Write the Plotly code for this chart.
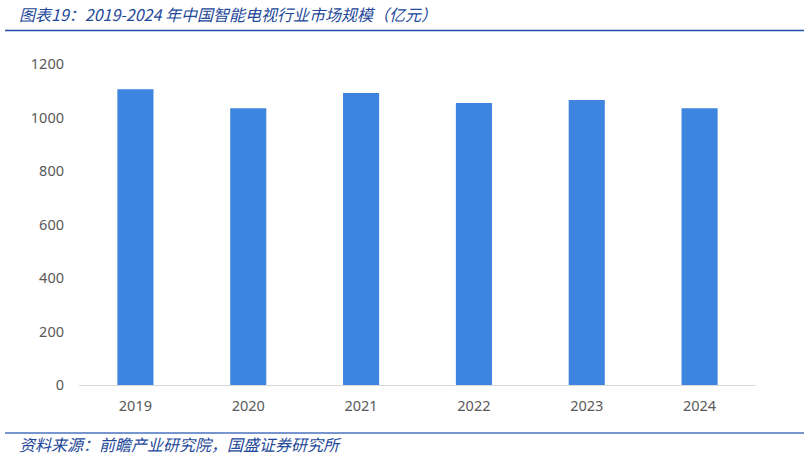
import plotly.graph_objects as go

years = ["2019", "2020", "2021", "2022", "2023", "2024"]
market_size = [1106, 1035, 1092, 1054, 1065, 1035]
y_ticks = [0, 200, 400, 600, 800, 1000, 1200]

title_text = "图表19：2019-2024 年中国智能电视行业市场规模（亿元）"
source_text = "资料来源：前瞻产业研究院，国盛证券研究所"

W, H = 810, 458
ML, MR, MT, MB = 79, 54, 64, 73
PW, PH = W - ML - MR, H - MT - MB


def px_x(x):
    return (x - ML) / PW


def px_y(y):
    return (H - MB - y) / PH


title_color = "#24489A"
fig = go.Figure(
    go.Bar(
        x=years,
        y=market_size,
        marker=dict(color="#3D85DF", line=dict(width=0)),
        hoverinfo="x+y",
    )
)

fig.update_layout(
    width=W,
    height=H,
    paper_bgcolor="white",
    plot_bgcolor="white",
    margin=dict(l=ML, r=MR, t=MT, b=MB),
    bargap=0.68,
    showlegend=False,
    font=dict(family="Noto Sans CJK SC, Noto Sans, sans-serif", color="#595959", size=14),
    xaxis=dict(
        type="category",
        showgrid=False,
        showline=True,
        linecolor="#D9D9D9",
        linewidth=1,
        ticks="",
        ticklabelstandoff=8,
        tickfont=dict(size=14.5, color="#595959", family="Noto Sans, sans-serif"),
    ),
    yaxis=dict(
        range=[0, 1200],
        tickvals=y_ticks,
        showgrid=False,
        zeroline=False,
        showline=False,
        ticks="",
        ticklabelstandoff=14,
        tickfont=dict(size=14.5, color="#595959", family="Noto Sans, sans-serif"),
    ),
    shapes=[
        dict(type="line", xref="paper", yref="paper", x0=px_x(5), x1=px_x(804),
             y0=px_y(30.5), y1=px_y(30.5),
             line=dict(color="#1F50AA", width=1.5)),
        dict(type="line", xref="paper", yref="paper", x0=px_x(5), x1=px_x(804),
             y0=px_y(433), y1=px_y(433),
             line=dict(color="#4A72BE", width=1.5)),
    ],
    annotations=[
        dict(text="<i>" + title_text + "</i>", xref="paper", yref="paper",
             x=px_x(17), y=px_y(14), xanchor="left", yanchor="middle",
             showarrow=False,
             font=dict(size=16, color=title_color, family="Noto Sans CJK SC, sans-serif")),
        dict(text="<i>" + source_text + "</i>", xref="paper", yref="paper",
             x=px_x(17), y=px_y(444), xanchor="left", yanchor="middle",
             showarrow=False,
             font=dict(size=16, color=title_color, family="Noto Sans CJK SC, sans-serif")),
    ],
)

fig.write_html(
    "out.html",
    config={"displayModeBar": False},
    post_script="document.body.style.margin='0';document.body.style.overflow='hidden';",
)
